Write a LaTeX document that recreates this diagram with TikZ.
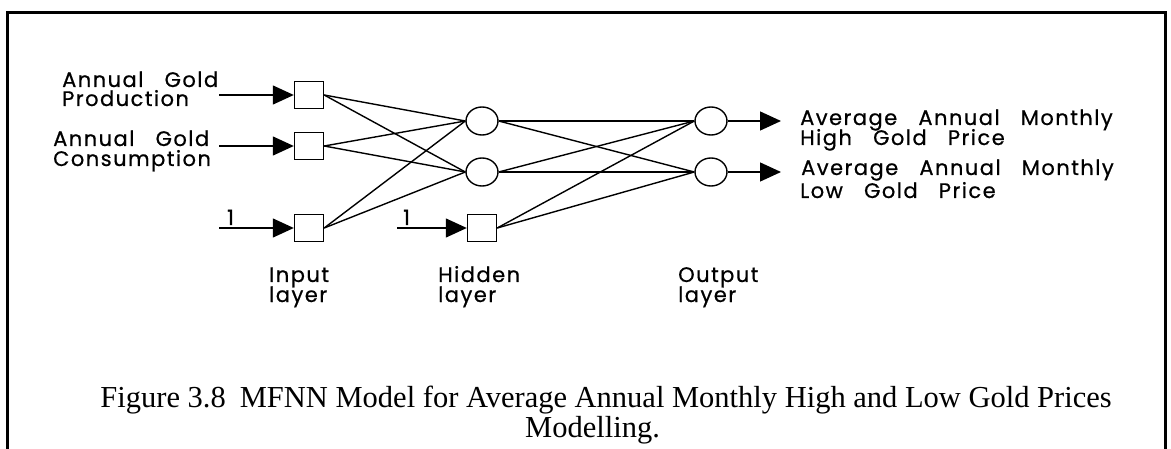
\documentclass[tikz,border=0pt]{standalone}
\usepackage{fontspec}
\setmainfont{Liberation Serif}
\newfontfamily\labelfont[LetterSpace=7,WordSpace=3,FakeBold=0.6]{Poppins}
\usetikzlibrary{arrows.meta,shapes.geometric}
\begin{document}
\begin{tikzpicture}[x=1pt,y=-1pt,
  unit/.style={draw,line width=1.4pt,minimum width=29pt,minimum height=27pt,inner sep=0pt},
  neuron/.style={draw,ellipse,line width=1.4pt,minimum width=32pt,minimum height=28pt,inner sep=0pt},
  link/.style={line width=1.4pt},
  feed/.style={line width=1.4pt,-{Triangle[length=21pt,width=19pt]}},
  lbl/.style={font=\labelfont\fontsize{21}{21}\selectfont,anchor=base west,inner sep=0pt},
  captext/.style={font=\fontsize{30.5}{34}\selectfont,inner sep=0pt},
  framestyle/.style={line width=3pt}]
\useasboundingbox (0,0) rectangle (1171,449);
\draw[framestyle] (7,449) -- (7,13) -- (1165,13) -- (1165,449);
% nodes
\node[unit] (i1) at (309,95) {};
\node[unit] (i2) at (309,146) {};
\node[unit] (i3) at (309,228) {};
\node[neuron] (h1) at (482,121) {};
\node[neuron] (h2) at (482,172) {};
\node[unit] (hb) at (482,228) {};
\node[neuron] (o1) at (711,121) {};
\node[neuron] (o2) at (711,172) {};
% arrow ends
\coordinate (s1) at (219,95);
\coordinate (s2) at (219,146);
\coordinate (s3) at (219,228);
\coordinate (s4) at (397,228);
\coordinate (e1) at (781,121);
\coordinate (e2) at (781,172);
\draw[feed] (s1) -- (i1);
\draw[feed] (s2) -- (i2);
\draw[feed] (s3) -- (i3);
\draw[feed] (s4) -- (hb);
\draw[feed] (o1) -- (e1);
\draw[feed] (o2) -- (e2);
\foreach \a in {i1,i2,i3}{\foreach \b in {h1,h2}{\draw[link] (\a.east) -- (\b.west);}}
\foreach \a in {h1,h2,hb}{\foreach \b in {o1,o2}{\draw[link] (\a.east) -- (\b.west);}}
% labels
\node[lbl] (t1) at (62,87) {Annual Gold};
\node[lbl] (t2) at (62,106) {Production};
\node[lbl] (t3) at (53,146) {Annual Gold};
\node[lbl] (t4) at (53,166) {Consumption};
\node[lbl] (b1) at (227,225) {1};
\node[lbl] (b2) at (403,225) {1};
\node[lbl] (l1) at (269,282) {Input};
\node[lbl] (l2) at (269,302) {layer};
\node[lbl] (l3) at (438,282) {Hidden};
\node[lbl] (l4) at (438,302) {layer};
\node[lbl] (l5) at (678,282) {Output};
\node[lbl] (l6) at (678,302) {layer};
\node[lbl] (r1) at (800,125) {Average Annual Monthly};
\node[lbl] (r2) at (800,145) {High Gold Price};
\node[lbl] (r3) at (801,175) {Average Annual Monthly};
\node[lbl] (r4) at (800,198) {Low Gold Price};
% caption
\node[captext,anchor=base east] (c1) at (1112,407) {Figure 3.8\hspace{14pt}MFNN Model for Average Annual Monthly High and Low Gold Prices};
\node[captext,anchor=base west] (c2) at (525,437) {Modelling.};
\end{tikzpicture}
\end{document}
